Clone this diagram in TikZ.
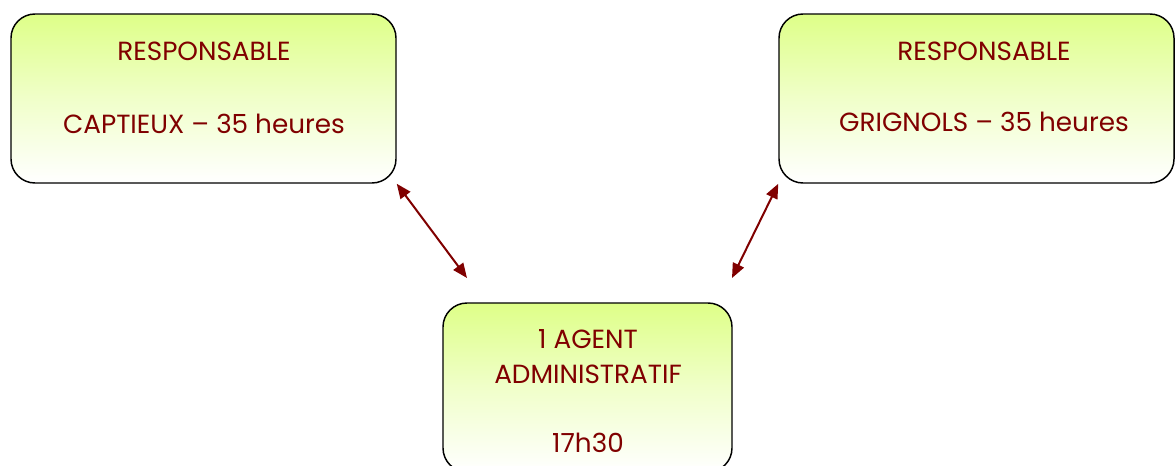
\documentclass[tikz,border=0pt]{standalone}
\usepackage{fontspec}
\setmainfont{Poppins}
\usetikzlibrary{arrows.meta}
\definecolor{maroon}{RGB}{128,0,0}
\definecolor{lime}{RGB}{222,255,136}
\tikzset{
  box/.style={draw=black, line width=1.1pt, rounded corners=18pt, inner sep=0pt,
    top color=lime, bottom color=white, middle color=lime!45},
  txt/.style={text=maroon, font=\fontsize{19.7}{22}\selectfont, anchor=base},
  link/.style={draw=maroon, line width=1.5pt, {Triangle[length=11pt,width=9pt]}-{Triangle[length=11pt,width=9pt]}}
}
\begin{document}
\begin{tikzpicture}[x=0.75pt,y=-0.75pt]
\clip (0,0) rectangle (1176,465);
% les trois cadres
\node[box, minimum width=288.75pt, minimum height=126.75pt] (capt) at (203.5,98.5) {};
\node[box, minimum width=296.25pt, minimum height=126.75pt] (grig) at (976.5,98.5) {};
\node[box, minimum width=216.75pt, minimum height=126.75pt] (agent) at (587.5,387.5) {};
% textes
\node[txt] (capt1) at (204,60) {RESPONSABLE};
\node[txt] (capt2) at (204,133) {CAPTIEUX -- 35 heures};
\node[txt] (grig1) at (984,60) {RESPONSABLE};
\node[txt] (grig2) at (984,131) {GRIGNOLS -- 35 heures};
\node[txt] (agent1) at (588,348) {1 AGENT};
\node[txt] (agent2) at (588,383) {ADMINISTRATIF};
\node[txt] (agent3) at (588,452) {17h30};
% liaisons
\coordinate (pa) at (467,278);
\coordinate (pb) at (732,278);
\draw[link] (capt.south east) -- (pa);
\draw[link] (grig.south west) -- (pb);
\end{tikzpicture}
\end{document}
